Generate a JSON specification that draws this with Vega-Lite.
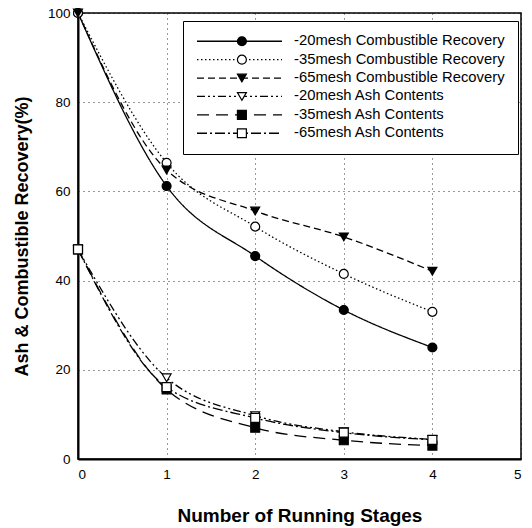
{
  "$schema": "https://vega.github.io/schema/vega-lite/v6.json",
  "width": 443,
  "height": 446,
  "autosize": {"type": "none"},
  "padding": {"left": 78, "top": 13, "right": 11, "bottom": 69},
  "background": "white",
  "config": {
    "font": "Liberation Sans",
    "view": {"stroke": "black", "strokeWidth": 1.5}
  },
  "data": {
    "values": [
      {"stage": 0, "value": 100, "series": "-20mesh Combustible Recovery", "marker": "-20mesh Combustible Recovery"},
      {"stage": 1, "value": 61.2, "series": "-20mesh Combustible Recovery", "marker": "-20mesh Combustible Recovery"},
      {"stage": 2, "value": 45.5, "series": "-20mesh Combustible Recovery", "marker": "-20mesh Combustible Recovery"},
      {"stage": 3, "value": 33.4, "series": "-20mesh Combustible Recovery", "marker": "-20mesh Combustible Recovery"},
      {"stage": 4, "value": 25.0, "series": "-20mesh Combustible Recovery", "marker": "-20mesh Combustible Recovery"},
      {"stage": 0, "value": 100, "series": "-35mesh Combustible Recovery", "marker": "-35mesh Combustible Recovery"},
      {"stage": 1, "value": 66.4, "series": "-35mesh Combustible Recovery", "marker": "-35mesh Combustible Recovery"},
      {"stage": 2, "value": 52.1, "series": "-35mesh Combustible Recovery", "marker": "-35mesh Combustible Recovery"},
      {"stage": 3, "value": 41.5, "series": "-35mesh Combustible Recovery", "marker": "-35mesh Combustible Recovery"},
      {"stage": 4, "value": 33.0, "series": "-35mesh Combustible Recovery", "marker": "-35mesh Combustible Recovery"},
      {"stage": 0, "value": 100, "series": "-65mesh Combustible Recovery", "marker": "-65mesh Combustible Recovery"},
      {"stage": 1, "value": 64.8, "series": "-65mesh Combustible Recovery", "marker": "-65mesh Combustible Recovery"},
      {"stage": 2, "value": 55.6, "series": "-65mesh Combustible Recovery", "marker": "-65mesh Combustible Recovery"},
      {"stage": 3, "value": 49.8, "series": "-65mesh Combustible Recovery", "marker": "-65mesh Combustible Recovery"},
      {"stage": 4, "value": 42.1, "series": "-65mesh Combustible Recovery", "marker": "-65mesh Combustible Recovery"},
      {"stage": 0, "value": 47, "series": "-20mesh Ash Contents", "marker": "-20mesh Ash Contents"},
      {"stage": 1, "value": 18.2, "series": "-20mesh Ash Contents", "marker": "-20mesh Ash Contents"},
      {"stage": 2, "value": 9.7, "series": "-20mesh Ash Contents", "marker": "-20mesh Ash Contents"},
      {"stage": 3, "value": 6.1, "series": "-20mesh Ash Contents", "marker": "-20mesh Ash Contents"},
      {"stage": 4, "value": 4.4, "series": "-20mesh Ash Contents", "marker": "-20mesh Ash Contents"},
      {"stage": 0, "value": 47, "series": "-35mesh Ash Contents", "marker": "-35mesh Ash Contents"},
      {"stage": 1, "value": 15.6, "series": "-35mesh Ash Contents", "marker": "-35mesh Ash Contents"},
      {"stage": 2, "value": 7.0, "series": "-35mesh Ash Contents", "marker": "-35mesh Ash Contents"},
      {"stage": 3, "value": 4.2, "series": "-35mesh Ash Contents", "marker": "-35mesh Ash Contents"},
      {"stage": 4, "value": 3.0, "series": "-35mesh Ash Contents", "marker": "-35mesh Ash Contents"},
      {"stage": 0, "value": 47, "series": "-65mesh Ash Contents", "marker": "-65mesh Ash Contents"},
      {"stage": 1, "value": 16.1, "series": "-65mesh Ash Contents", "marker": "-65mesh Ash Contents"},
      {"stage": 2, "value": 9.2, "series": "-65mesh Ash Contents", "marker": "-65mesh Ash Contents"},
      {"stage": 3, "value": 5.9, "series": "-65mesh Ash Contents", "marker": "-65mesh Ash Contents"},
      {"stage": 4, "value": 4.3, "series": "-65mesh Ash Contents", "marker": "-65mesh Ash Contents"}
    ]
  },
  "encoding": {
    "x": {
      "field": "stage", "type": "quantitative",
      "scale": {"domain": [0, 5], "nice": false},
      "axis": {
        "title": "Number of Running Stages", "values": [0, 1, 2, 3, 4, 5], "format": "d",
        "labelFontSize": 13.5, "labelColor": "black", "labelPadding": 8, "ticks": false,
        "titleFontSize": 19, "titleFontWeight": "bold", "titleColor": "black",
        "titleBaseline": "middle", "titleY": 56,
        "domainColor": "black", "domainWidth": 2,
        "grid": true, "gridDash": [1, 4], "gridColor": "black", "gridOpacity": 0.8
      }
    },
    "y": {
      "field": "value", "type": "quantitative",
      "scale": {"domain": [0, 100], "nice": false},
      "axis": {
        "title": "Ash & Combustible Recovery(%)", "values": [0, 20, 40, 60, 80, 100],
        "labelFontSize": 13.5, "labelColor": "black", "labelPadding": 8, "ticks": false,
        "titleFontSize": 18, "titleFontWeight": "bold", "titleColor": "black",
        "titleBaseline": "middle", "titleX": -56, "titleY": 223,
        "domainColor": "black", "domainWidth": 2,
        "grid": true, "gridDash": [1, 4], "gridColor": "black", "gridOpacity": 0.8
      }
    }
  },
  "layer": [
    {
      "mark": {"type": "line", "interpolate": "monotone", "color": "black", "strokeWidth": 1.3},
      "encoding": {
        "strokeDash": {
          "field": "series", "type": "nominal",
          "sort": ["-20mesh Combustible Recovery", "-35mesh Combustible Recovery", "-65mesh Combustible Recovery", "-20mesh Ash Contents", "-35mesh Ash Contents", "-65mesh Ash Contents"],
          "scale": {"range": [[1, 0], [1.5, 2.5], [7, 4], [8, 3, 2, 3, 2, 3], [12, 7], [10, 3, 2, 3]]},
          "legend": {
            "title": null, "orient": "none", "legendX": 105, "legendY": 8,
            "symbolType": "stroke", "symbolSize": 7225, "symbolStrokeColor": "black", "symbolStrokeWidth": 1.3,
            "clipHeight": 14.5, "rowPadding": 2.4, "padding": 13,
            "labelFontSize": 14.8, "labelColor": "black", "labelOffset": 11, "labelLimit": 400,
            "strokeColor": "black", "fillColor": "white"
          }
        }
      }
    },
    {
      "mark": {"type": "point", "filled": true, "size": 80, "stroke": "black", "strokeWidth": 1.2, "opacity": 1},
      "encoding": {
        "shape": {
          "field": "marker", "type": "nominal",
          "sort": ["-20mesh Combustible Recovery", "-35mesh Combustible Recovery", "-65mesh Combustible Recovery", "-20mesh Ash Contents", "-35mesh Ash Contents", "-65mesh Ash Contents"],
          "scale": {"range": ["circle", "circle", "triangle-down", "triangle-down", "square", "square"]},
          "legend": {
            "title": null, "orient": "none", "legendX": 143.5, "legendY": 8,
            "symbolSize": 80, "symbolStrokeColor": "black", "symbolStrokeWidth": 1.2,
            "clipHeight": 14.5, "rowPadding": 2.4, "padding": 13,
            "labelFontSize": 14.8, "labelOpacity": 0, "labelOffset": 11, "labelExpr": "' '",
            "encoding": {
              "symbols": {
                "fill": {
                  "condition": {"test": "datum.value === '-35mesh Combustible Recovery' || datum.value === '-20mesh Ash Contents' || datum.value === '-65mesh Ash Contents'", "value": "white"},
                  "value": "black"
                },
                "stroke": {"value": "black"}
              }
            }
          }
        },
        "fill": {
          "field": "marker", "type": "nominal",
          "sort": ["-20mesh Combustible Recovery", "-35mesh Combustible Recovery", "-65mesh Combustible Recovery", "-20mesh Ash Contents", "-35mesh Ash Contents", "-65mesh Ash Contents"],
          "scale": {"range": ["black", "white", "black", "white", "black", "white"]},
          "legend": null
        }
      }
    }
  ]
}
